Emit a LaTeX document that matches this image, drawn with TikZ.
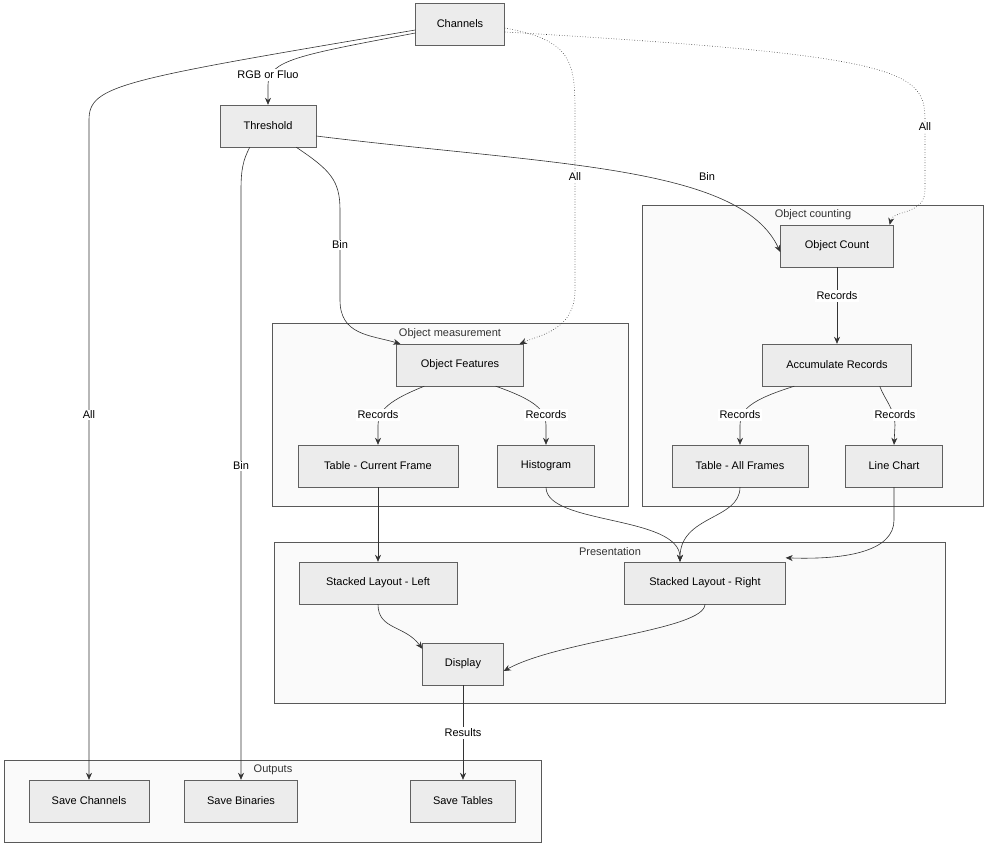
\documentclass[tikz,border=0pt]{standalone}
\usepackage{fontspec}
\setmainfont{Liberation Sans}
\usetikzlibrary{arrows.meta,calc}

\tikzset{
  box/.style={draw=gray!75!black,fill=gray!15,minimum height=42pt,inner sep=0pt,font=\fontsize{11}{13}\selectfont},
  grp/.style={draw=gray!70!black,fill=gray!4},
  grplbl/.style={font=\fontsize{11}{13}\selectfont,text=black!80},
  lbl/.style={fill=white,inner sep=1.5pt,font=\fontsize{11}{13}\selectfont},
  link/.style={draw=gray!40!black,line width=0.6pt,-{Stealth[length=7pt,width=6pt]}},
  dotlink/.style={link,dotted}
}

\begin{document}
\begin{tikzpicture}[x=1pt,y=-1pt]

\useasboundingbox (0,0) rectangle (986,846);

% groups
\draw[grp] (642,205) rectangle (983,506);
\node[grplbl] (gcount) at (813,215) {Object counting};
\draw[grp] (272,323) rectangle (628,506);
\node[grplbl] (gmeas) at (450,334) {Object measurement};
\draw[grp] (274,542) rectangle (945,703);
\node[grplbl] (gpres) at (610,552) {Presentation};
\draw[grp] (4,760) rectangle (541,842);
\node[grplbl] (gout) at (273,770) {Outputs};

% nodes
\node[box,minimum width=89pt] (chan) at (460,24) {Channels};
\node[box,minimum width=96pt] (thr) at (268,126) {Threshold};
\node[box,minimum width=113pt] (ocount) at (837,246) {Object Count};
\node[box,minimum width=149pt] (accum) at (837,365) {Accumulate Records};
\node[box,minimum width=136pt] (tall) at (740,466) {Table - All Frames};
\node[box,minimum width=97pt] (lchart) at (894,466) {Line Chart};
\node[box,minimum width=127pt] (ofeat) at (460,365) {Object Features};
\node[box,minimum width=160pt] (tcur) at (378,466) {Table - Current Frame};
\node[box,minimum width=97pt] (hist) at (546,466) {Histogram};
\node[box,minimum width=158pt] (sleft) at (378,583) {Stacked Layout - Left};
\node[box,minimum width=161pt] (sright) at (705,583) {Stacked Layout - Right};
\node[box,minimum width=81pt] (disp) at (463,664) {Display};
\node[box,minimum width=120pt] (schan) at (89,801) {Save Channels};
\node[box,minimum width=113pt] (sbin) at (241,801) {Save Binaries};
\node[box,minimum width=105pt] (stab) at (463,801) {Save Tables};

% connectors
\draw[link] ([yshift=-9pt]chan.west) .. controls (300,55) and (268,60) .. (268,85) -- (thr.north);
\draw[link] ([yshift=-6pt]chan.west) .. controls (120,80) and (89,85) .. (89,120) -- (schan.north);
\draw[dotlink] ([yshift=-4pt]chan.east) .. controls (570,40) and (575,60) .. (575,110) -- (575,290) .. controls (575,330) and (540,335) .. ([xshift=-4pt]ofeat.north east);
\draw[dotlink] ([yshift=-8pt]chan.east) .. controls (900,55) and (925,70) .. (925,120) -- (925,190) .. controls (925,215) and (893,210) .. ([xshift=-4pt]ocount.north east);
\draw[link] ([yshift=-10pt]thr.east) .. controls (550,165) and (740,165) .. ([yshift=-6pt]ocount.west);
\draw[link] ([xshift=-20pt]thr.south east) .. controls (330,170) and (340,180) .. (340,210) -- (340,300) .. controls (340,335) and (370,335) .. ([xshift=4pt]ofeat.north west);
\draw[link] ([xshift=30pt]thr.south west) .. controls (243,160) and (241,170) .. (241,190) -- (sbin.north);
\draw[link] (ocount) -- (accum);
\draw[link] ([xshift=32pt]accum.south west) .. controls (750,400) and (740,410) .. (740,425) -- (tall.north);
\draw[link] ([xshift=-32pt]accum.south east) .. controls (885,400) and (895,410) .. (895,425) -- (lchart.north);
\draw[link] ([xshift=28pt]ofeat.south west) .. controls (390,400) and (378,410) .. (378,425) -- (tcur.north);
\draw[link] ([xshift=-28pt]ofeat.south east) .. controls (535,400) and (546,410) .. (546,425) -- (hist.north);
\draw[link] (tcur) -- (sleft);
\draw[link] (hist.south) .. controls (546,525) and (680,515) .. ([xshift=-25pt]sright.north);
\draw[link] (tall.south) .. controls (740,520) and (680,515) .. ([xshift=-25pt]sright.north);
\draw[link] (lchart.south) -- (894,520) .. controls (894,550) and (850,560) .. ([yshift=4pt]sright.north east);
\draw[link] (sleft.south) .. controls (378,630) and (405,625) .. ([yshift=-6pt]disp.north west);
\draw[link] (sright.south) .. controls (705,630) and (560,640) .. ([yshift=-7pt]disp.east);
\draw[link] (disp) -- (stab);

% labels
\node[lbl] (lrgb) at (268,75) {RGB or Fluo};
\node[lbl] (lall1) at (89,415) {All};
\node[lbl] (lall2) at (575,177) {All};
\node[lbl] (lall3) at (925,127) {All};
\node[lbl] (lbin1) at (707,177) {Bin};
\node[lbl] (lbin2) at (340,245) {Bin};
\node[lbl] (lbin3) at (241,466) {Bin};
\node[lbl] (lrec1) at (837,296) {Records};
\node[lbl] (lrec2) at (740,415) {Records};
\node[lbl] (lrec3) at (895,415) {Records};
\node[lbl] (lrec4) at (378,415) {Records};
\node[lbl] (lrec5) at (546,415) {Records};
\node[lbl] (lres) at (463,733) {Results};

\end{tikzpicture}
\end{document}
